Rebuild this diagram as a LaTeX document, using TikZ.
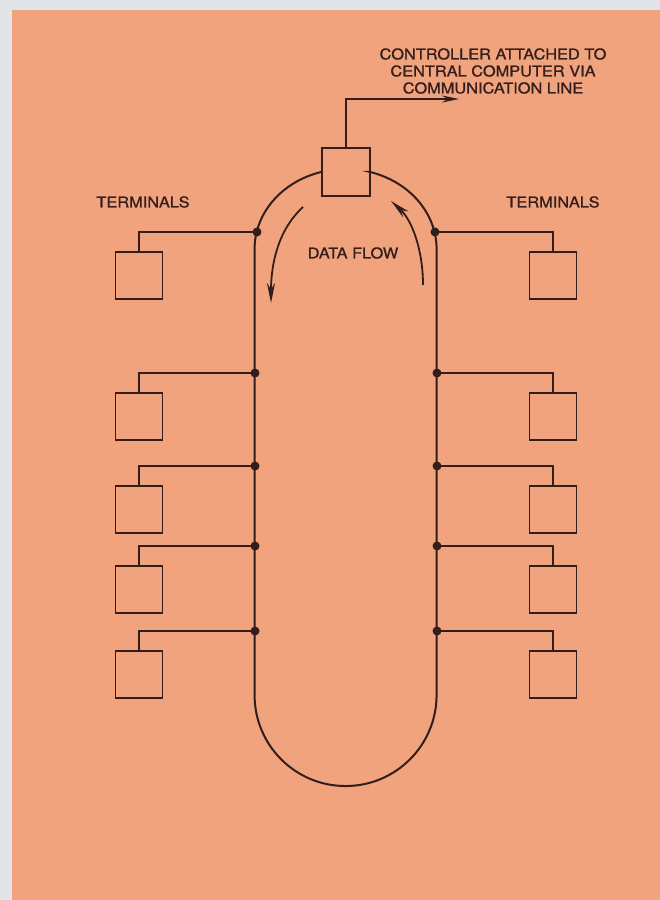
\documentclass[tikz,border=0pt]{standalone}
\usepackage{fontspec}
\setmainfont{TeX Gyre Heros}
\newfontfamily\leroy{TeX Gyre Heros}[FakeBold=0.9,FakeStretch=1.09]
\usepackage{tikz}
\usetikzlibrary{arrows.meta, positioning, calc}
\definecolor{PaperOrange}{RGB}{240,163,125}
\definecolor{InkBrown}   {RGB}{50,  30,  28}
\definecolor{EdgeGray}   {RGB}{226,229,232}

\begin{document}
\begin{tikzpicture}[x=1pt,y=1pt,line width=2pt,color=InkBrown,
    term/.style={draw=InkBrown,line width=1.8pt,minimum size=47pt,inner sep=0pt},
    tap/.style={circle,fill=InkBrown,inner sep=0pt,minimum size=9pt},
    lbl/.style={text=InkBrown,font=\leroy\fontsize{15}{17}\selectfont,align=center},
    flow/.style={line width=1.8pt,-{Stealth[length=20pt,width=8pt]}}]
      \useasboundingbox (0,0) rectangle (660,900);
      \fill[EdgeGray] (0,0) rectangle (660,900);
      \fill[PaperOrange] (12,0) rectangle (660,890);
      % controller
      \node[term,minimum size=48pt] (ctrl) at (346,728) {};
      \node[lbl] (note) at (493,829) {CONTROLLER ATTACHED TO\\CENTRAL COMPUTER VIA\\COMMUNICATION LINE};
      \coordinate (bend) at (346,801);
      \coordinate (comp) at (459,801);
      \draw[-{Stealth[length=17pt,width=7pt]}] (ctrl.north) -- (bend) -- (comp);
      % the loop
      \draw (ctrl.west) arc[start angle=105.6,end angle=180,x radius=91,y radius=80]
        -- ++(0,-446) arc[start angle=180,end angle=360,radius=91]
        -- ++(0,446) arc[start angle=0,end angle=74.4,x radius=91,y radius=80] -- (ctrl.east);
      % terminals on both sides
      \foreach \y/\xl/\xr [count=\i] in {668/257/435, 527/255/437, 434/255/437, 354/255/437, 269/255/437} {
        \node[tap] (dl\i) at (\xl,\y) {};
        \node[tap] (dr\i) at (\xr,\y) {};
        \node[term,anchor=north] (tl\i) at (139,\y-19) {};
        \node[term,anchor=north] (tr\i) at (553,\y-19) {};
        \draw (dl\i.center) -| (tl\i.north);
        \draw (dr\i.center) -| (tr\i.north);
      }
      \node[lbl] (termL) at (143,698) {TERMINALS};
      \node[lbl] (termR) at (553,698) {TERMINALS};
      \node[lbl] (flowtxt) at (353,647) {DATA FLOW};
      \draw[flow] (303,693) .. controls (280,672) and (271,640) .. (271,597);
      \draw[flow] (423,615) .. controls (423,650) and (412,680) .. (391,699);
    \end{tikzpicture}
\end{document}
